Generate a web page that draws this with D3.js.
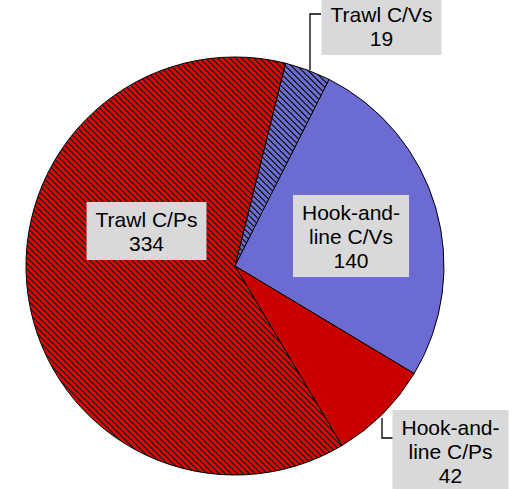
<!DOCTYPE html>
<html>
<head>
<meta charset="utf-8">
<script src="https://cdn.jsdelivr.net/npm/d3@7"></script>
<style>
	body { margin: 0; background: #fff; }
	text { font-family: "Liberation Sans", Arial, sans-serif; font-size: 21px; fill: #000; }
</style>
</head>
<body>
<div id="pie"></div>
<script>
// slice data, clockwise from the top
const categories = ["Trawl C/Vs", "Hook-and-line C/Vs", "Hook-and-line C/Ps", "Trawl C/Ps"];
const values = [19, 140, 42, 334];
const labelLines = [
	["Trawl C/Vs", "19"],
	["Hook-and-", "line C/Vs", "140"],
	["Hook-and-", "line C/Ps", "42"],
	["Trawl C/Ps", "334"],
];

const width = 514;
const height = 489;
const cx = 235;
const cy = 266;
const radius = 209;

// label box layout: center x, top y
const boxes = [
	{ x: 381.5, y: -3 },
	{ x: 351, y: 195 },
	{ x: 450.5, y: 410 },
	{ x: 146.5, y: 202 },
];

// leader lines for the small slices
const leaders = [
	[[321, 14], [310, 14], [310, 70]],
	null,
	[[394, 438], [382, 438], [382, 418]],
	null,
];

const svg = d3
	.select("#pie")
	.append("svg")
	.attr("width", width)
	.attr("height", height);

// striped fills, stair-stepped like the original
const defs = svg.append("defs");
function stripes(id, color) {
	const p = defs
		.append("pattern")
		.attr("id", id)
		.attr("patternUnits", "userSpaceOnUse")
		.attr("width", 6)
		.attr("height", 6);
	p.append("rect").attr("width", 6).attr("height", 6).attr("fill", "#222");
	for (let r = 0; r < 6; r++) {
		[r, r - 6].forEach((x0) => {
			p.append("rect")
				.attr("x", x0)
				.attr("y", r)
				.attr("width", 4)
				.attr("height", 1)
				.attr("fill", color)
				.attr("shape-rendering", "crispEdges");
		});
	}
}
stripes("redStripe", "#e00000");
stripes("blueStripe", "#6b6bd6");

const fills = ["url(#blueStripe)", "#6b6bd2", "#c80000", "url(#redStripe)"];

const start = (14 * Math.PI) / 180;
const pie = d3
	.pie()
	.sort(null)
	.startAngle(start)
	.endAngle(start + 2 * Math.PI)
	.value((d) => d);

const arc = d3.arc().innerRadius(0).outerRadius(radius);

const g = svg.append("g").attr("transform", `translate(${cx}, ${cy})`);

g.selectAll("path")
	.data(pie(values))
	.enter()
	.append("path")
	.attr("d", arc)
	.attr("fill", (d, i) => fills[i])
	.attr("stroke", "#000")
	.attr("stroke-width", 1);

// leader lines
leaders.forEach((pts) => {
	if (!pts) return;
	svg.append("path")
		.attr("d", d3.line()(pts))
		.attr("fill", "none")
		.attr("stroke", "#000")
		.attr("stroke-width", 1.3);
});

// labels
const lineH = 24;
labelLines.forEach((lines, i) => {
	const b = boxes[i];
	const lg = svg.append("g");
	const rect = lg.append("rect").attr("fill", "#d9d9d9");
	let maxW = 0;
	lines.forEach((t, j) => {
		const txt = lg
			.append("text")
			.attr("x", b.x)
			.attr("y", b.y + 25 + j * lineH)
			.attr("text-anchor", "middle")
			.text(t);
		maxW = Math.max(maxW, txt.node().getComputedTextLength());
	});
	const w = maxW + 18;
	rect.attr("x", b.x - w / 2)
		.attr("y", b.y)
		.attr("width", w)
		.attr("height", 25 + (lines.length - 1) * lineH + 9);
});
</script>
</body>
</html>
